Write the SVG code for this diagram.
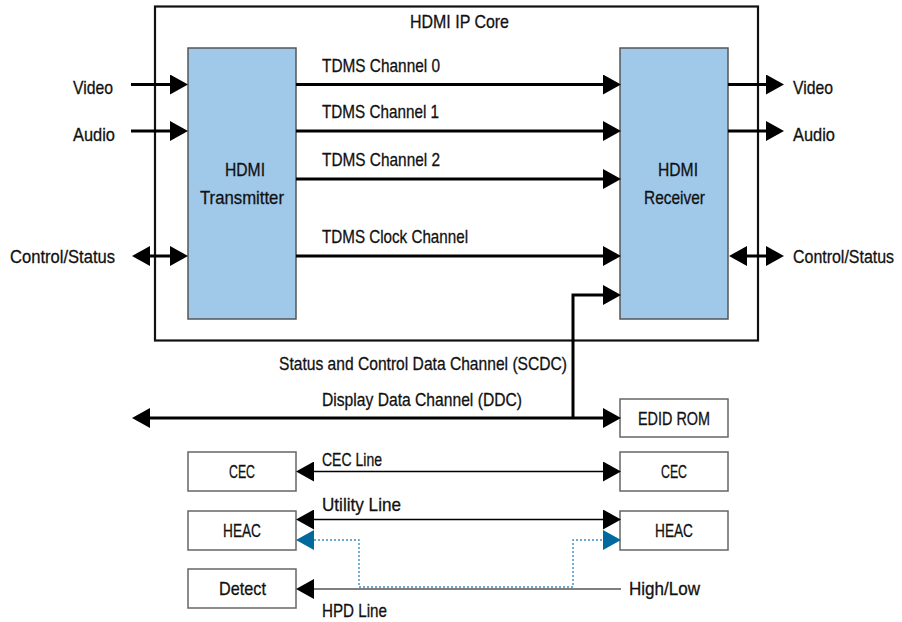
<svg xmlns="http://www.w3.org/2000/svg" width="902" height="622" viewBox="0 0 902 622">
<style>
  text { font-family: "Liberation Sans Narrow", "Liberation Sans", Arial, sans-serif; font-size: 19px; fill: #111; stroke: #111; stroke-width: 0.3; }
  .blk { fill: #9fc8e9; stroke: #555; stroke-width: 1.5; }
  .box { fill: #fff; stroke: #666; stroke-width: 1.5; }
  .core { fill: none; stroke: #111; stroke-width: 2.2; }
  .thick { fill: none; stroke: #000; stroke-width: 3; }
  .thin { fill: none; stroke: #000; stroke-width: 1.4; }
  .hpd { fill: none; stroke: #555; stroke-width: 1.6; }
  .dot { fill: none; stroke: #3c8fc4; stroke-width: 1.4; stroke-dasharray: 2 2; }
</style>
<defs>
  <marker id="ah" viewBox="0 0 18 20" refX="0" refY="10" markerWidth="18" markerHeight="20" markerUnits="userSpaceOnUse" orient="auto-start-reverse">
    <path d="M0,0 L18,10 L0,20 Z" fill="#000"/>
  </marker>
  <marker id="ahb" viewBox="0 0 18 20" refX="0" refY="10" markerWidth="18" markerHeight="20" markerUnits="userSpaceOnUse" orient="auto-start-reverse">
    <path d="M0,0 L18,10 L0,20 Z" fill="#006a9e"/>
  </marker>
</defs>

<g id="ip-core">
  <rect class="core" x="155" y="6.5" width="603" height="334"/>
  <text x="410" y="28" textLength="99" lengthAdjust="spacingAndGlyphs">HDMI IP Core</text>
</g>

<g id="transmitter">
  <rect class="blk" x="188" y="48" width="108" height="271"/>
  <text x="225" y="176" textLength="40" lengthAdjust="spacingAndGlyphs">HDMI</text>
  <text x="200" y="204" textLength="84" lengthAdjust="spacingAndGlyphs">Transmitter</text>
</g>

<g id="receiver">
  <rect class="blk" x="620" y="48" width="108" height="271"/>
  <text x="658" y="176" textLength="40" lengthAdjust="spacingAndGlyphs">HDMI</text>
  <text x="644" y="204" textLength="61" lengthAdjust="spacingAndGlyphs">Receiver</text>
</g>

<g id="edid-rom">
  <rect class="box" x="620" y="399" width="108" height="38"/>
  <text x="638" y="425" textLength="72" lengthAdjust="spacingAndGlyphs">EDID ROM</text>
</g>
<g id="cec-left">
  <rect class="box" x="188" y="452" width="108" height="39"/>
  <text x="229" y="478" textLength="26" lengthAdjust="spacingAndGlyphs">CEC</text>
</g>
<g id="cec-right">
  <rect class="box" x="620" y="452" width="108" height="39"/>
  <text x="661" y="478" textLength="26" lengthAdjust="spacingAndGlyphs">CEC</text>
</g>
<g id="heac-left">
  <rect class="box" x="188" y="511" width="108" height="39"/>
  <text x="223" y="537" textLength="38" lengthAdjust="spacingAndGlyphs">HEAC</text>
</g>
<g id="heac-right">
  <rect class="box" x="620" y="511" width="108" height="39"/>
  <text x="655" y="537" textLength="38" lengthAdjust="spacingAndGlyphs">HEAC</text>
</g>
<g id="detect">
  <rect class="box" x="188" y="569" width="108" height="39"/>
  <text x="219" y="595" textLength="47" lengthAdjust="spacingAndGlyphs">Detect</text>
</g>

<g id="connectors">
  <!-- left inputs -->
  <line class="thick" x1="131" y1="84.5" x2="170" y2="84.5" marker-end="url(#ah)"/>
  <line class="thick" x1="131" y1="131" x2="170" y2="131" marker-end="url(#ah)"/>
  <line class="thick" x1="150" y1="256" x2="170" y2="256" marker-start="url(#ah)" marker-end="url(#ah)"/>
  <!-- TDMS -->
  <line class="thick" x1="296" y1="84.5" x2="603" y2="84.5" marker-end="url(#ah)"/>
  <line class="thick" x1="296" y1="131" x2="603" y2="131" marker-end="url(#ah)"/>
  <line class="thick" x1="296" y1="179" x2="603" y2="179" marker-end="url(#ah)"/>
  <line class="thick" x1="296" y1="256" x2="603" y2="256" marker-end="url(#ah)"/>
  <!-- right outputs -->
  <line class="thick" x1="728" y1="84.5" x2="766" y2="84.5" marker-end="url(#ah)"/>
  <line class="thick" x1="728" y1="131" x2="766" y2="131" marker-end="url(#ah)"/>
  <line class="thick" x1="747" y1="256" x2="766" y2="256" marker-start="url(#ah)" marker-end="url(#ah)"/>
  <!-- SCDC / DDC -->
  <polyline class="thick" points="573,418 573,295 603,295" marker-end="url(#ah)"/>
  <line class="thick" x1="150" y1="418" x2="603" y2="418" marker-start="url(#ah)" marker-end="url(#ah)"/>
  <!-- CEC, Utility -->
  <line class="thin" x1="314" y1="471.5" x2="603" y2="471.5" marker-start="url(#ah)" marker-end="url(#ah)"/>
  <line class="thin" x1="314" y1="519.5" x2="603" y2="519.5" marker-start="url(#ah)" marker-end="url(#ah)"/>
  <!-- HEAC dotted -->
  <polyline class="dot" points="314,540 359,540 359,587 573,587 573,540 603,540" marker-start="url(#ahb)" marker-end="url(#ahb)"/>
  <!-- HPD -->
  <line class="hpd" x1="314" y1="589" x2="621" y2="589" marker-start="url(#ah)"/>

  <!-- labels -->
  <text x="73" y="94" textLength="40" lengthAdjust="spacingAndGlyphs">Video</text>
  <text x="73" y="141" textLength="42" lengthAdjust="spacingAndGlyphs">Audio</text>
  <text x="10" y="263" textLength="105" lengthAdjust="spacingAndGlyphs">Control/Status</text>
  <text x="322" y="72" textLength="118" lengthAdjust="spacingAndGlyphs">TDMS Channel 0</text>
  <text x="322" y="118" textLength="117" lengthAdjust="spacingAndGlyphs">TDMS Channel 1</text>
  <text x="322" y="166" textLength="118" lengthAdjust="spacingAndGlyphs">TDMS Channel 2</text>
  <text x="322" y="243" textLength="146" lengthAdjust="spacingAndGlyphs">TDMS Clock Channel</text>
  <text x="793" y="94" textLength="40" lengthAdjust="spacingAndGlyphs">Video</text>
  <text x="793" y="141" textLength="42" lengthAdjust="spacingAndGlyphs">Audio</text>
  <text transform="translate(793,263) scale(0.84,1)" x="0" y="0">Control/Status</text>
  <text x="279" y="370" textLength="288" lengthAdjust="spacingAndGlyphs">Status and Control Data Channel (SCDC)</text>
  <text x="322" y="406" textLength="200" lengthAdjust="spacingAndGlyphs">Display Data Channel (DDC)</text>
  <text x="322" y="466" textLength="60" lengthAdjust="spacingAndGlyphs">CEC Line</text>
  <text x="322" y="511" textLength="79" lengthAdjust="spacingAndGlyphs">Utility Line</text>
  <text x="322" y="617" textLength="65" lengthAdjust="spacingAndGlyphs">HPD Line</text>
  <text x="629" y="595" textLength="71" lengthAdjust="spacingAndGlyphs">High/Low</text>
</g>
</svg>
